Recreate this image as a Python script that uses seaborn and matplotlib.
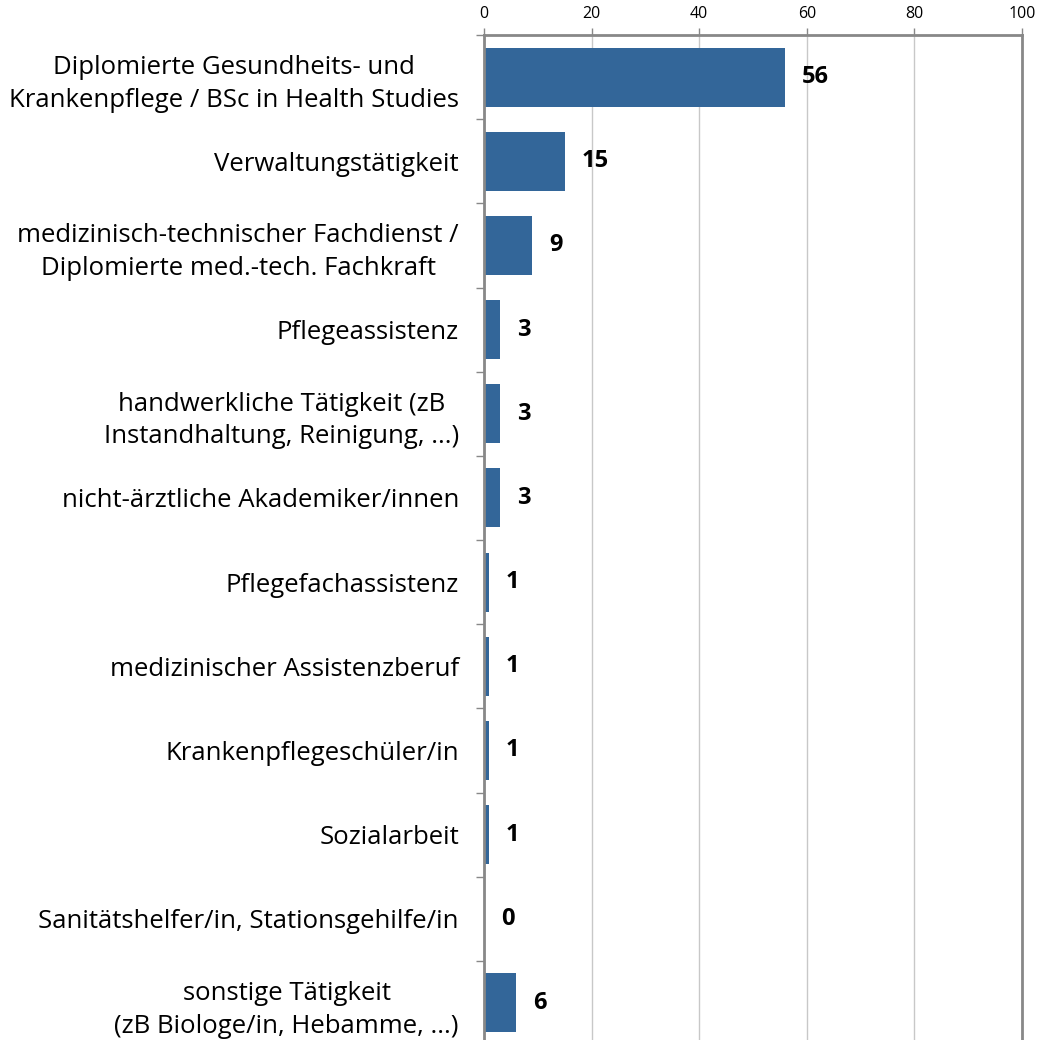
import numpy as np
import pandas as pd
import seaborn as sns
import matplotlib
matplotlib.use("Agg")
import matplotlib.pyplot as plt

# data
categories = [
    "Diplomierte Gesundheits- und\nKrankenpflege / BSc in Health Studies",
    "Verwaltungstätigkeit",
    "medizinisch-technischer Fachdienst /\nDiplomierte med.-tech. Fachkraft",
    "Pflegeassistenz",
    "handwerkliche Tätigkeit (zB\nInstandhaltung, Reinigung, ...)",
    "nicht-ärztliche Akademiker/innen",
    "Pflegefachassistenz",
    "medizinischer Assistenzberuf",
    "Krankenpflegeschüler/in",
    "Sozialarbeit",
    "Sanitätshelfer/in, Stationsgehilfe/in",
    "sonstige Tätigkeit\n(zB Biologe/in, Hebamme, ...)",
]
values = [56, 15, 9, 3, 3, 3, 1, 1, 1, 1, 0, 6]
x_ticks = [0, 20, 40, 60, 80, 100]

df = pd.DataFrame({"category": categories, "value": values})

sns.set_style("white")
plt.rcParams["font.family"] = ["Open Sans", "DejaVu Sans"]
plt.rcParams["text.color"] = "black"
plt.rcParams["xtick.color"] = "#888888"
plt.rcParams["xtick.labelcolor"] = "black"
plt.rcParams["ytick.labelcolor"] = "black"

fig = plt.figure(figsize=(10.38, 10.40), dpi=100)
# axes box: left 484px, right 1022px, top 35px, bottom slightly below image
ax = fig.add_axes([484 / 1038, -5 / 1040, (1022 - 484) / 1038, (1040 - 35 + 5) / 1040])

sns.barplot(data=df, x="value", y="category", orient="h", color="#336699",
            width=0.7, saturation=1, linewidth=0, ax=ax)

ax.set_xlim(0, 100)
ax.set_ylim(len(categories) - 0.5, -0.5)
ax.set_xticks(x_ticks)
ax.xaxis.tick_top()
ax.tick_params(axis="x", top=True, labelsize=11.5, length=5, width=1,
               color="#888888", pad=4)
ax.grid(axis="x", color="#c8c8c8", linewidth=1)
ax.set_axisbelow(True)
ax.set_xlabel("")
ax.set_ylabel("")

# category labels: right aligned block, centered lines
ax.tick_params(axis="y", which="major", length=0, pad=18, labelsize=18.5)
for lab in ax.get_yticklabels():
    lab.set_multialignment("center")
    lab.set_linespacing(1.4)
ax.set_yticks(np.arange(len(categories) + 1) - 0.5, minor=True)
ax.tick_params(axis="y", which="minor", left=True, length=6, color="#888888", width=1)

for side in ["left", "right", "top"]:
    ax.spines[side].set_color("#888888")
    ax.spines[side].set_linewidth(2)
ax.spines["bottom"].set_visible(False)

ax.bar_label(ax.containers[0], labels=[str(v) for v in values], padding=12,
             fontsize=17, fontweight="bold", color="black")

fig.savefig("out.png", dpi=100)
